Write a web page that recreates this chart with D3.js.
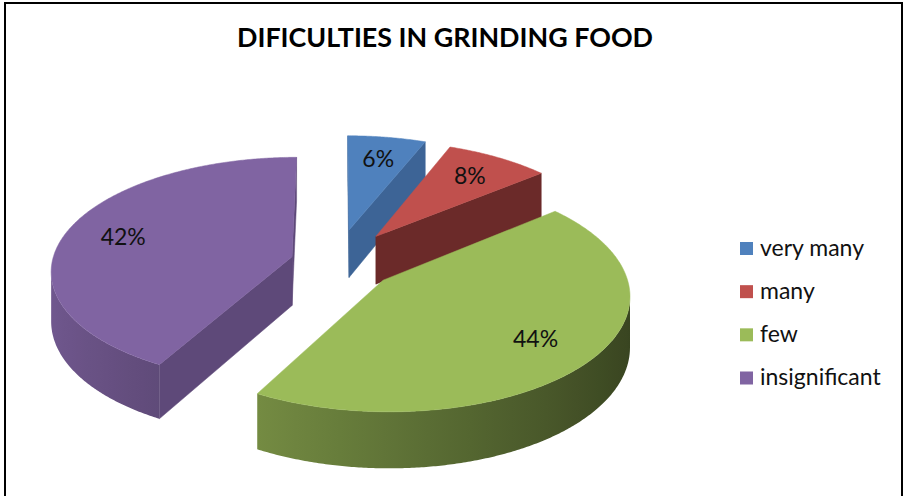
<!DOCTYPE html>
<html>
<head>
<meta charset="utf-8">
<script src="https://cdn.jsdelivr.net/npm/d3@7"></script>
<style>
  html, body { margin: 0; padding: 0; background: #fff; }
  svg { display: block; }
</style>
</head>
<body>
<script>
// ---- data ----
const categories = ['very many', 'many', 'few', 'insignificant'];
const values = [6, 8, 44, 42];
const title = 'DIFICULTIES IN GRINDING FOOD';

// ---- styles ----
const topColors = ['#4F81BD', '#C0504D', '#9BBB59', '#8064A2'];
const cutColors = ['#3D6496', '#6B2A29', '#5F7A35', '#5E4979'];
const explode = [0.30, 0.29, 0.25, 0.19];

const W = 906, H = 496;
const svg = d3.select('body').append('svg').attr('width', W).attr('height', H);
const defs = svg.append('defs');

svg.append('rect').attr('x', 5).attr('y', 3).attr('width', 897).attr('height', 510)
  .attr('fill', '#fff').attr('stroke', '#000').attr('stroke-width', 2);

// ---- projection (perspective view of the pie plane) ----
const P = { cx: 336, cy: 262, Sx: 240, Sy: 112, g: 0.115, T: 49 };
function proj(X, Y, Z) {
  const w = 1 - P.g * Z;
  return [P.cx + P.Sx * X / w, P.cy + (P.Sy * Z - P.T * Y) / w];
}
function area(pts) {
  let s = 0;
  for (let i = 0; i < pts.length; i++) {
    const a = pts[i], b = pts[(i + 1) % pts.length];
    s += a[0] * b[1] - b[0] * a[1];
  }
  return s;
}
const line = d3.line();
function shade(col, f) {
  const c = d3.rgb(col);
  return d3.rgb(c.r * f, c.g * f, c.b * f).formatHex();
}
const light = t => 0.62 + 0.26 * Math.sin(t - Math.PI);

const pie = d3.pie().sort(null).value(d => d)(values);
const total = d3.sum(values);
const pct = d3.format('.0%');

const slices = pie.map((p, i) => {
  const m = (p.startAngle + p.endAngle) / 2;
  const ox = explode[i] * Math.sin(m), oz = -explode[i] * Math.cos(m);
  return { p, i, m, ox, oz };
});
slices.sort((a, b) => a.oz - b.oz);

const gPie = svg.append('g');
const step = Math.PI / 360;
slices.forEach(s => {
  const { p, i, ox, oz } = s;
  const rim = (t, Y) => proj(ox + Math.sin(t), Y, oz - Math.cos(t));
  const ctr = Y => proj(ox, Y, oz);
  const g = gPie.append('g');
  const n = Math.max(2, Math.ceil((p.endAngle - p.startAngle) / step));
  const ang = k => p.startAngle + (p.endAngle - p.startAngle) * k / n;

  // outer wall: collect visible runs, draw each as one path with a gradient
  const runs = [];
  let cur = null;
  for (let k = 0; k < n; k++) {
    const t1 = ang(k), t2 = ang(k + 1);
    const q = [rim(t2, 0), rim(t1, 0), rim(t1, -1), rim(t2, -1)];
    if (area(q) > 0) {
      if (!cur) { cur = [t1]; runs.push(cur); }
      cur.push(t2);
    } else cur = null;
  }
  runs.forEach((run, ri) => {
    const topPts = run.map(t => rim(t, 0));
    const botPts = run.map(t => rim(t, -1)).reverse();
    const xs = topPts.map(d => d[0]);
    const x0 = xs[0], x1 = xs[xs.length - 1];
    const id = 'wall' + i + '_' + ri;
    const grad = defs.append('linearGradient').attr('id', id)
      .attr('gradientUnits', 'userSpaceOnUse')
      .attr('x1', x0).attr('y1', 0).attr('x2', x1).attr('y2', 0);
    const ns = 12;
    for (let j = 0; j <= ns; j++) {
      const idx = Math.round((run.length - 1) * j / ns);
      const off = x1 === x0 ? 0 : (xs[idx] - x0) / (x1 - x0);
      grad.append('stop').attr('offset', Math.max(0, Math.min(1, off)))
        .attr('stop-color', shade(topColors[i], light(run[idx])));
    }
    g.append('path').attr('d', line(topPts.concat(botPts)) + 'Z')
      .attr('fill', 'url(#' + id + ')');
  });

  // cut faces
  const f1 = [rim(p.startAngle, 0), ctr(0), ctr(-1), rim(p.startAngle, -1)];
  const f2 = [ctr(0), rim(p.endAngle, 0), rim(p.endAngle, -1), ctr(-1)];
  [f1, f2].forEach(q => {
    if (area(q) > 0) {
      g.append('path').attr('d', line(q) + 'Z').attr('fill', cutColors[i])
        .attr('stroke', cutColors[i]).attr('stroke-width', 0.5).attr('stroke-linejoin', 'round');
    }
  });
  // top face
  const top = [ctr(0)];
  for (let k = 0; k <= n; k++) top.push(rim(ang(k), 0));
  g.append('path').attr('d', line(top) + 'Z').attr('fill', topColors[i])
    .attr('stroke', topColors[i]).attr('stroke-width', 0.5).attr('stroke-linejoin', 'round');
});

// data labels
const lf = 0.75;
slices.forEach(s => {
  const pt = proj(s.ox + lf * Math.sin(s.m), 0, s.oz - lf * Math.cos(s.m));
  svg.append('text').attr('x', pt[0]).attr('y', pt[1] + 8)
    .attr('text-anchor', 'middle')
    .attr('font-family', 'Lato, "Open Sans", sans-serif').attr('font-size', 23)
    .attr('fill', '#111')
    .text(pct(values[s.i] / total));
});

// title
svg.append('text').attr('x', 445).attr('y', 47).attr('text-anchor', 'middle')
  .attr('font-family', 'Lato, "Open Sans", sans-serif').attr('font-weight', 'bold')
  .attr('font-size', 26).attr('textLength', 416).attr('lengthAdjust', 'spacingAndGlyphs')
  .attr('fill', '#000').text(title);

// legend
const ly = d3.scalePoint().domain(categories).range([248.5, 378]);
const leg = svg.append('g');
categories.forEach((c, i) => {
  leg.append('rect').attr('x', 740).attr('y', ly(c) - 6.5).attr('width', 13).attr('height', 13)
    .attr('fill', topColors[i]);
  leg.append('text').attr('x', 760).attr('y', ly(c) + 7)
    .attr('font-family', 'Lato, "Open Sans", sans-serif').attr('font-size', 23)
    .attr('fill', '#111').text(c);
});
</script>
</body>
</html>
